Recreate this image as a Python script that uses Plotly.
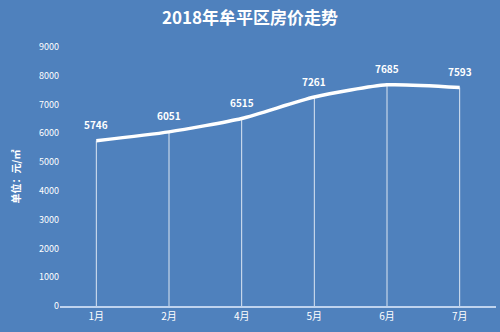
import plotly.graph_objects as go

months = ["1月", "2月", "4月", "5月", "6月", "7月"]
prices = [5746, 6051, 6515, 7261, 7685, 7593]
y_ticks = [0, 1000, 2000, 3000, 4000, 5000, 6000, 7000, 8000, 9000]

BG = "#4F81BD"
FONT = "Noto Sans CJK SC"

fig = go.Figure()
fig.add_trace(go.Scatter(
    x=months, y=prices, mode="lines",
    line=dict(color="white", width=3.5, shape="spline", smoothing=0.6),
    error_y=dict(type="data", symmetric=False, array=[0]*len(prices),
                 arrayminus=prices, color="rgba(255,255,255,0.8)",
                 thickness=1, width=0),
    cliponaxis=False, hoverinfo="skip",
))

for m, v in zip(months, prices):
    fig.add_annotation(x=m, y=v, text=f"<b>{v}</b>", showarrow=False,
                       yshift=16, font=dict(color="white", size=10, family=FONT))

fig.update_layout(
    width=500, height=332,
    paper_bgcolor=BG, plot_bgcolor=BG,
    margin=dict(l=60, r=4, t=47, b=26),
    showlegend=False,
    title=dict(text="<b>2018年牟平区房价走势</b>", x=0.5, xanchor="center",
               y=1 - 18/332, yanchor="middle",
               font=dict(color="white", size=17, family=FONT)),
    font=dict(family=FONT, color="white"),
)
fig.update_xaxes(
    type="category", range=[-0.5, 5.5], showgrid=False,
    showline=True, linecolor="#BFD3EE", linewidth=2,
    ticks="", tickfont=dict(color="white", size=10, family=FONT),
    zeroline=False,
)
fig.update_yaxes(
    range=[0, 9000], tickvals=y_ticks, showgrid=False, zeroline=False,
    showline=False, ticks="",
    tickfont=dict(color="white", size=9, family=FONT),
    title=dict(text="<b>单位：元/㎡</b>", font=dict(color="white", size=10, family=FONT),
               standoff=16),
)

fig.write_html("out.html")
